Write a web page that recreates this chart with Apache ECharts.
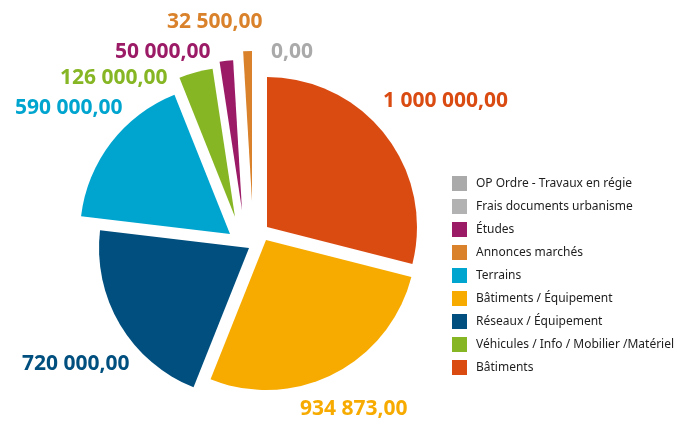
<!DOCTYPE html>
<html>
<head>
<meta charset="utf-8">
<script src="https://cdn.jsdelivr.net/npm/echarts@6/dist/echarts.min.js"></script>
<style>
	html, body { margin: 0; padding: 0; background: #fff; }
	#myCharts { width: 691px; height: 423px; }
</style>
</head>
<body>
<div id="myCharts"></div>
<script>
	// pie order, clockwise from 12 o'clock
	const names = ['Bâtiments', 'Bâtiments / Équipement', 'Réseaux / Équipement', 'Terrains',
		'Véhicules / Info / Mobilier /Matériel', 'Études', 'Annonces marchés',
		'OP Ordre - Travaux en régie', 'Frais documents urbanisme'];
	const values = [1000000, 934873, 720000, 590000, 126000, 50000, 32500, 0, 0];
	const legendOrder = ['OP Ordre - Travaux en régie', 'Frais documents urbanisme', 'Études',
		'Annonces marchés', 'Terrains', 'Bâtiments / Équipement', 'Réseaux / Équipement',
		'Véhicules / Info / Mobilier /Matériel', 'Bâtiments'];

	const colors = ['#da4b12', '#f7ab00', '#004f7e', '#00a5cf', '#86b624', '#9b1b66', '#d9822b', '#aaaaaa', '#b2b2b2'];
	// exploded look: each slice drawn from its own centre
	const centers = [[267, 227], [266, 240], [249, 248], [230, 234], [235, 217], [242, 210], [252, 201], [256, 200], [256, 200]];
	// where the value texts sit (left, middle)
	const labelPos = [[383, 101], [300, 409], [22, 364], [15, 108], [60, 78], [115, 52], [167, 22], [271, 52], null];

	function frNumber(v) {
		let parts = v.toFixed(2).split('.');
		parts[0] = parts[0].replace(/\B(?=(\d{3})+(?!\d))/g, ' ');
		return parts.join(',');
	}

	let series = names.map(function (n, i) {
		return {
			type: 'pie',
			center: centers[i],
			radius: [0, 150],
			startAngle: 90,
			clockwise: true,
			silent: true,
			animation: false,
			itemStyle: { borderWidth: 0 },
			labelLine: { show: false },
			label: { show: false },
			data: names.map(function (name, j) {
				return {
					name: name,
					value: values[j],
					itemStyle: { color: j === i ? colors[j] : 'rgba(0,0,0,0)' }
				};
			})
		};
	});

	let texts = [];
	names.forEach(function (n, i) {
		if (!labelPos[i]) return;
		texts.push({
			type: 'text',
			x: labelPos[i][0],
			y: labelPos[i][1],
			silent: true,
			style: {
				text: frNumber(values[i]),
				fill: colors[i],
				font: 'bold 21px "Noto Sans"',
				textAlign: 'left',
				textVerticalAlign: 'middle',
				verticalAlign: 'middle'
			}
		});
	});

	let mychart = echarts.init(document.getElementById('myCharts'));
	mychart.setOption({
		backgroundColor: '#fff',
		legend: {
			orient: 'vertical',
			left: 447,
			top: 171,
			itemWidth: 15,
			itemHeight: 15,
			itemGap: 8,
			icon: 'rect',
			selectedMode: false,
			textStyle: {
				fontFamily: 'Noto Sans',
				fontSize: 12,
				color: '#1e1e1e',
				padding: [0, 0, 0, 4]
			},
			data: legendOrder.map(function (n) {
				return { name: n, itemStyle: { color: colors[names.indexOf(n)] } };
			})
		},
		graphic: texts,
		series: series
	});
	window.onresize = mychart.resize;
</script>
</body>
</html>
